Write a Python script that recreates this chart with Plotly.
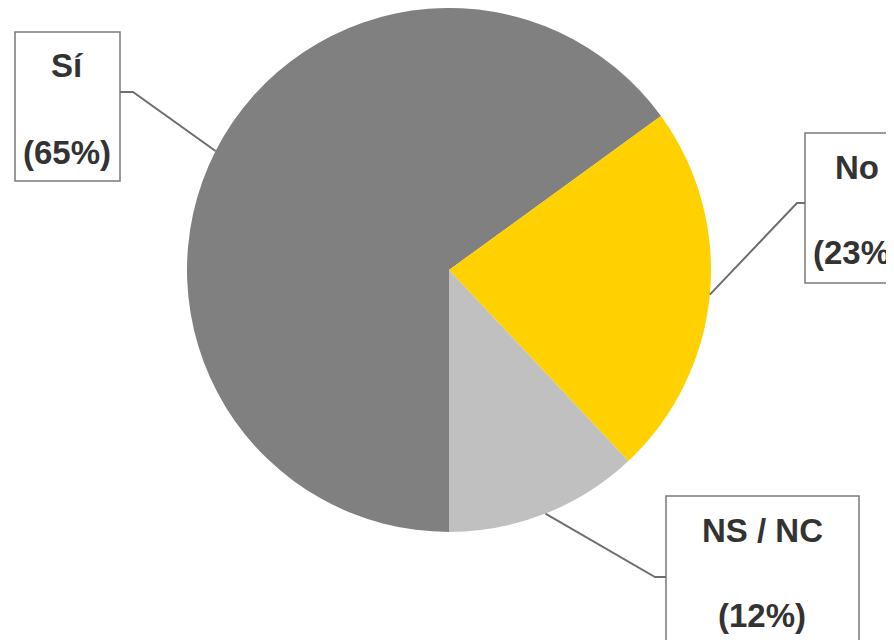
import math
import plotly.graph_objects as go

# ---- data ----
labels = ["Sí", "No", "NS / NC"]
values = [65, 23, 12]
colors = ["#808080", "#FFD100", "#C0C0C0"]

W, H = 894, 640
OFF = 8  # page body offset in the screenshot
CX, CY, R = 449, 270, 262  # pie centre / radius in screen px

def px(x):
    return (x - OFF) / W

def py(y):
    return 1 - (y - OFF) / H

# label boxes (screen px): x0, y0, x1, y1 ; text centres ; leader elbow, box attach point
boxes = {
    "Sí": dict(box=(15, 32, 120, 181), tx=67, ty1=65, ty2=152, elbow=(133, 92), attach=(120, 92)),
    "No": dict(box=(805, 133, 990, 283), tx=857, ty1=167, ty2=252, elbow=(797, 203), attach=(805, 203)),
    "NS / NC": dict(box=(666, 496, 859, 700), tx=762, ty1=530, ty2=615, elbow=(655, 577), attach=(666, 577)),
}

fig = go.Figure()
fig.add_trace(go.Pie(
    labels=labels, values=values, sort=False, direction="clockwise", rotation=180,
    marker=dict(colors=colors, line=dict(width=0)),
    textinfo="none", hoverinfo="label+percent",
    domain=dict(x=[px(CX - R), px(CX + R)], y=[py(CY + R), py(CY - R)]),
    showlegend=False,
))

shapes = []
annotations = []
total = sum(values)
start = 180.0
for lab, val in zip(labels, values):
    span = 360.0 * val / total
    mid = math.radians(start + span / 2)
    start += span
    ex = CX + R * math.sin(mid)
    ey = CY - R * math.cos(mid)
    b = boxes[lab]
    x0, y0, x1, y1 = b["box"]
    shapes.append(dict(type="rect", xref="paper", yref="paper",
                       x0=px(x0), x1=px(x1), y0=py(y1), y1=py(y0),
                       line=dict(color="#7a7a7a", width=1.5), fillcolor="white", layer="above"))
    (elx, ely), (atx, aty) = b["elbow"], b["attach"]
    shapes.append(dict(type="path", xref="paper", yref="paper",
                       path=f"M {px(ex)} {py(ey)} L {px(elx)} {py(ely)} L {px(atx)} {py(aty)}",
                       line=dict(color="#6e6e6e", width=2), layer="above"))
    for txt, ty in ((lab, b["ty1"]), (f"({val}%)", b["ty2"])):
        annotations.append(dict(text=f"<b>{txt}</b>", x=px(b["tx"]), y=py(ty),
                                xref="paper", yref="paper", showarrow=False,
                                xanchor="center", yanchor="middle",
                                font=dict(family="Liberation Sans, Arial", size=33, color="#333333")))

fig.update_layout(
    width=W, height=H, margin=dict(l=0, r=0, t=0, b=0),
    paper_bgcolor="white", plot_bgcolor="white",
    shapes=shapes, annotations=annotations,
)
fig.write_html("out.html")
